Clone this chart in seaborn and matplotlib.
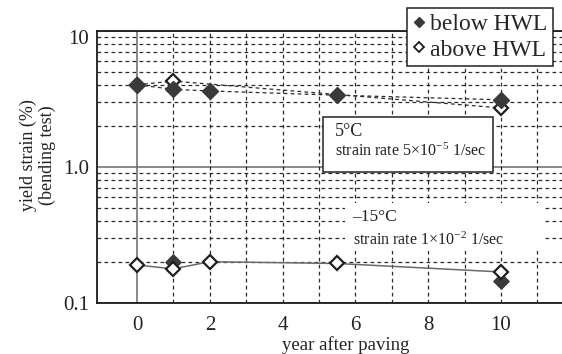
import matplotlib
matplotlib.use("Agg")
import matplotlib.pyplot as plt
from matplotlib.lines import Line2D
from matplotlib.patches import Rectangle
from matplotlib.ticker import LogLocator, NullFormatter, FixedLocator
import seaborn as sns

# 5 °C, strain rate 5e-5 1/sec
warm_below_years = [0, 1, 2, 5.5, 10]
warm_below_strain = [4.0, 3.7, 3.6, 3.35, 3.1]
warm_above_years = [0, 1, 10]
warm_above_strain = [4.0, 4.25, 2.7]

# -15 °C, strain rate 1e-2 1/sec
cold_above_years = [0, 1, 2, 5.5, 10]
cold_above_strain = [0.19, 0.178, 0.201, 0.195, 0.169]
cold_below_years = [1, 10]
cold_below_strain = [0.199, 0.145]

x_ticks = [0, 2, 4, 6, 8, 10]
y_ticks = [0.1, 1.0, 10]
y_tick_labels = ["0.1", "1.0", "10"]
legend_labels = ["below HWL", "above HWL"]

sns.set_theme(style="white")
plt.rcParams["font.family"] = ["Liberation Serif", "DejaVu Serif"]
plt.rcParams["mathtext.fontset"] = "custom"
plt.rcParams["mathtext.rm"] = "Liberation Serif"
plt.rcParams["mathtext.it"] = "Liberation Serif:italic"

W, H = 562, 354
fig = plt.figure(figsize=(W / 100, H / 100), dpi=100)
fig.patch.set_facecolor("white")
ax = fig.add_axes([97 / W, 1 - 303 / H, 500 / W, (303 - 30.5) / H])
ax.set_facecolor("white")

ink = "#2a2a2a"
dash = (0, (3, 2.6))

# scales
ax.set_yscale("log")
ax.set_ylim(0.1, 10)
ax.set_xlim(-1.1, -1.1 + 500 / 36.4)

# grid: dashed minor lines, solid gray at 1.0 and at year 0
ax.yaxis.set_major_locator(FixedLocator(y_ticks))
ax.yaxis.set_minor_locator(LogLocator(base=10, subs=range(2, 10)))
ax.yaxis.set_minor_formatter(NullFormatter())
ax.grid(axis="y", which="minor", color=ink, linestyle=dash, linewidth=0.9, zorder=1)
ax.grid(axis="y", which="major", color="#6a6a6a", linestyle="-", linewidth=1.1, zorder=1)
for gx in range(1, 13):
    ax.axvline(gx, color=ink, linestyle=dash, linewidth=0.9, zorder=1)
ax.axvline(0, color="#6a6a6a", linestyle="-", linewidth=1.1, zorder=1)
ax.set_axisbelow(True)

filled = dict(marker="D", markersize=8, markerfacecolor="#3a3a3a",
              markeredgecolor="#3a3a3a", markeredgewidth=1)
hollow = dict(marker="D", markersize=7.5, markerfacecolor="white",
              markeredgecolor="#1e1e1e", markeredgewidth=1.6)

# 5 °C series (dashed connections)
sns.lineplot(x=warm_above_years, y=warm_above_strain, ax=ax, color=ink,
             linestyle=dash, linewidth=0.9, zorder=4, **hollow)
sns.lineplot(x=warm_below_years, y=warm_below_strain, ax=ax, color=ink,
             linestyle=dash, linewidth=0.9, zorder=5, **filled)

# -15 °C series (solid gray connection through the open markers)
sns.scatterplot(x=cold_below_years, y=cold_below_strain, ax=ax, marker="D",
                s=60, color="#3a3a3a", edgecolor="#3a3a3a", linewidth=1, zorder=4)
sns.lineplot(x=cold_above_years, y=cold_above_strain, ax=ax, color="#6a6a6a",
             linestyle="-", linewidth=1.1, zorder=5, **hollow)

# ticks
ax.set_xticks(x_ticks)
ax.set_xticklabels([str(t) for t in x_ticks])
ax.set_yticklabels(y_tick_labels)
ax.tick_params(axis="both", which="both", length=0, labelsize=15, colors="#222222")
ax.tick_params(axis="x", pad=9)
ax.tick_params(axis="y", pad=5.5)
ax.get_yticklabels()[-1].set_verticalalignment("top")
ax.set_xlabel("")
ax.set_ylabel("")

for side in ["left", "bottom", "top"]:
    ax.spines[side].set_color("#1a1a1a")
    ax.spines[side].set_linewidth(1.3)
ax.spines["right"].set_visible(False)

# legend
handles = [
    Line2D([], [], linestyle="none", marker="D", markersize=5,
           markerfacecolor="#3a3a3a", markeredgecolor="#3a3a3a"),
    Line2D([], [], linestyle="none", marker="D", markersize=5,
           markerfacecolor="white", markeredgecolor="#1e1e1e", markeredgewidth=1.3),
]
leg = ax.legend(handles, legend_labels, loc="upper right",
                bbox_to_anchor=(553 / W, 1 - 8 / H), bbox_transform=fig.transFigure,
                frameon=True, fancybox=False, framealpha=1, edgecolor="#222222",
                fontsize=17, handlelength=0.5, handletextpad=0.2,
                borderpad=0.25, labelspacing=0.15, borderaxespad=0)
leg.get_frame().set_linewidth(1.1)
leg.set_zorder(10)

# 5 °C condition box
fig.add_artist(Rectangle((323 / W, 1 - 172 / H), 170 / W, 55 / H,
                         transform=fig.transFigure, facecolor="white",
                         edgecolor="#222222", linewidth=1.1, zorder=6))
fig.text(335 / W, 1 - 132 / H, "5°C", fontsize=13, va="center", ha="left",
         color="#222222", zorder=7)
fig.text(335 / W, 1 - 151 / H, "strain rate 5×10$^{-5}$ 1/sec", fontsize=11.5,
         va="center", ha="left", color="#222222", zorder=7)

# -15 °C condition label on a plain white patch
fig.add_artist(Rectangle((345 / W, 1 - 251 / H), 198 / W, 48 / H,
                         transform=fig.transFigure, facecolor="white",
                         edgecolor="none", zorder=6))
fig.text(352 / W, 1 - 217 / H, "–15°C", fontsize=12.5, va="center", ha="left",
         color="#222222", zorder=7)
fig.text(353 / W, 1 - 240 / H, "strain rate 1×10$^{-2}$ 1/sec", fontsize=11.5,
         va="center", ha="left", color="#222222", zorder=7)

# axis titles
fig.text(38 / W, 1 - 155 / H, "yield strain (%)\n(bending test)", rotation=90,
         fontsize=13, ha="center", va="center", color="#222222", linespacing=1.1)
fig.text(346 / W, 1 - 345 / H, "year after paving", fontsize=13.5,
         ha="center", va="center", color="#222222")

fig.savefig("out.png", dpi=100, facecolor="white")
